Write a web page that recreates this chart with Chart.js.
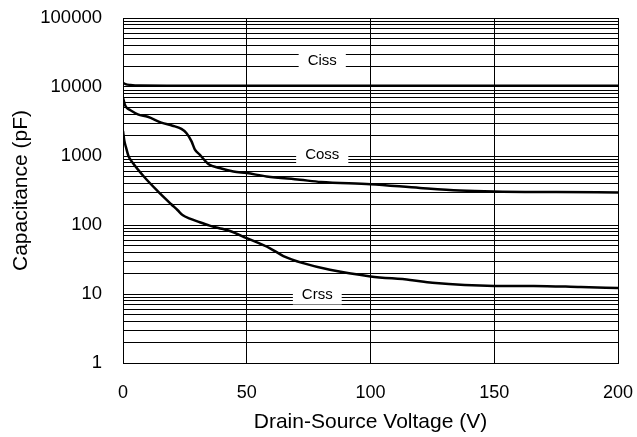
<!DOCTYPE html>
<html>
<head>
<meta charset="utf-8">
<script src="https://cdn.jsdelivr.net/npm/chart.js@4.4.0/dist/chart.umd.min.js"></script>
<style>
  html, body { margin: 0; padding: 0; background: #fff; }
</style>
</head>
<body>
<canvas id="capChart" width="637" height="437"></canvas>
<script>
const cissV = [0, 1, 3, 7, 20, 50, 100, 150, 200];
const cissC = [11500, 11000, 10700, 10500, 10450, 10450, 10450, 10450, 10450];

const cossV = [0, 0.8, 1.5, 3, 6, 10, 15.5, 20, 23.6, 25.6, 27.7, 29, 31, 34.6, 39, 44.6, 50, 58, 71.5, 80, 100, 120, 136, 150, 175, 200];
const cossC = [7000, 5500, 5000, 4600, 4000, 3700, 3050, 2750, 2470, 2150, 1630, 1250, 1045, 760, 670, 598, 565, 506, 453, 420, 390, 345, 317, 306, 300, 296];

const crssV = [0, 0.5, 1.3, 2.2, 4, 8.5, 14, 19.5, 22, 24.2, 27, 30.3, 35, 40, 43.2, 50, 59.4, 64.8, 72.8, 83.6, 100, 116, 125, 150, 166, 185, 200];
const crssC = [2300, 1700, 1300, 1000, 790, 500, 310, 200, 165, 138, 124, 112, 98, 88, 82, 64.5, 46, 35.5, 28, 22.4, 18, 16, 14.5, 13.1, 13.1, 12.6, 12.2];

// curve labels sit in white boxes on the grid
const curveNames = ["Ciss", "Coss", "Crss"];
const labelV = [80.5, 80.5, 78.5];
const labelC = [24500, 1090, 10];

const xTicks = [0, 50, 100, 150, 200];
const decades = [1, 10, 100, 1000, 10000, 100000];
const steps = [1, 2, 3, 4, 5, 6, 7, 8, 9];
const yTicks = [];
decades.forEach(d => {
  if (d === 100000) {
    yTicks.push(d);
  } else {
    steps.forEach(s => yTicks.push(s * d));
  }
});

const font = "'Liberation Sans', Arial, sans-serif";

function points(xs, ys) {
  return xs.map((v, i) => ({ x: v, y: ys[i] }));
}

function curve(label, xs, ys) {
  return {
    label,
    data: points(xs, ys),
    borderColor: "#000",
    backgroundColor: "#000",
    borderWidth: 2.5,
    pointRadius: 0,
    cubicInterpolationMode: "monotone",
    fill: false
  };
}

const labelBoxes = {
  id: "labelBoxes",
  afterDatasetsDraw(chart) {
    const { ctx } = chart;
    const x = chart.scales.x;
    const y = chart.scales.y;
    ctx.save();
    ctx.font = "15px " + font;
    ctx.textAlign = "center";
    ctx.textBaseline = "middle";
    curveNames.forEach((name, i) => {
      const px = x.getPixelForValue(labelV[i]);
      const py = y.getPixelForValue(labelC[i]);
      const w = ctx.measureText(name).width + 18;
      const h = 21;
      ctx.fillStyle = "#fff";
      ctx.fillRect(px - w / 2, py - h / 2, w, h);
      ctx.fillStyle = "#000";
      ctx.fillText(name, px, py + 1);
    });
    ctx.restore();
  }
};

new Chart(document.getElementById("capChart"), {
  type: "line",
  data: {
    datasets: [
      curve("Ciss", cissV, cissC),
      curve("Coss", cossV, cossC),
      curve("Crss", crssV, crssC)
    ]
  },
  options: {
    responsive: false,
    animation: false,
    layout: {
      padding: { top: 18, right: 19, bottom: 0, left: 0 }
    },
    scales: {
      x: {
        type: "linear",
        min: 0,
        max: 200,
        afterBuildTicks: scale => {
          scale.ticks = xTicks.map(v => ({ value: v }));
        },
        afterFit: scale => {
          scale.height = 74;
          scale.paddingLeft = 0;
          scale.paddingRight = 0;
        },
        border: { display: true, color: "#000", width: 1 },
        grid: { color: "#000", lineWidth: 1, drawTicks: false },
        ticks: {
          color: "#000",
          padding: 19,
          font: { family: font, size: 18 }
        },
        title: {
          display: true,
          text: "Drain-Source Voltage (V)",
          color: "#000",
          font: { family: font, size: 21 },
          padding: { top: 0, bottom: 2 }
        }
      },
      y: {
        type: "logarithmic",
        min: 1,
        max: 100000,
        afterBuildTicks: scale => {
          scale.ticks = yTicks.map(v => ({ value: v }));
        },
        afterFit: scale => {
          scale.width = 123;
          scale.paddingTop = 0;
          scale.paddingBottom = 0;
        },
        border: { display: true, color: "#000", width: 1 },
        grid: { color: "#000", lineWidth: 1, drawTicks: false },
        ticks: {
          color: "#000",
          padding: 21,
          autoSkip: false,
          font: { family: font, size: 18.5 },
          callback: value => decades.includes(value) ? String(value) : ""
        },
        title: {
          display: true,
          text: "Capacitance (pF)",
          color: "#000",
          font: { family: font, size: 21 },
          padding: { top: 9, bottom: 0 }
        }
      }
    },
    plugins: {
      legend: { display: false },
      tooltip: { enabled: false }
    }
  },
  plugins: [labelBoxes]
});
</script>
</body>
</html>
